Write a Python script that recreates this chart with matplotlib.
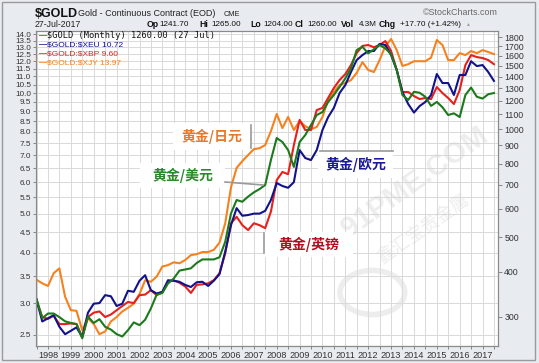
import datetime as dt
import matplotlib
matplotlib.use('Agg')
import matplotlib.pyplot as plt
import matplotlib.dates as mdates
import matplotlib.patches as mpatches
from matplotlib.ticker import FixedLocator, FixedFormatter, NullLocator
import pandas as pd

plt.rcParams['font.family'] = ['Liberation Sans', 'DejaVu Sans']

# quarterly closes, Jul 1997 .. Jul 2017
dates = pd.date_range('1997-07-01', '2017-07-01', freq='QS-JAN')

# $GOLD in USD (right axis)
gold_usd = [336, 297, 306, 306, 299, 291, 288, 286, 261, 300,
            288, 295, 281, 276, 268, 264, 275, 289, 284, 294,
            316, 345, 349, 371, 383, 403, 406, 409, 423, 433,
            433, 433, 439, 485, 582, 634, 627, 648, 666, 680,
            698, 820, 944, 920, 874, 784, 920, 962, 1026, 1094,
            1115, 1189, 1244, 1310, 1385, 1475, 1660, 1695, 1625, 1668,
            1714, 1678, 1615, 1460, 1244, 1205, 1270, 1262, 1230, 1160,
            1190, 1150, 1094, 1106, 1080, 1244, 1305, 1230, 1216, 1250,
            1260]

# ratio overlays (left axis)
gold_eur = [3.06, 2.70, 2.75, 2.80, 2.62, 2.51, 2.56, 2.61, 2.47, 2.84,
            2.99, 3.00, 3.14, 3.12, 2.95, 2.99, 3.22, 3.20, 3.41, 3.52,
            3.23, 3.17, 3.20, 3.42, 3.41, 3.39, 3.33, 3.29, 3.38, 3.39,
            3.31, 3.41, 3.54, 4.03, 4.69, 5.17, 4.95, 4.97, 5.01, 5.01,
            5.09, 5.42, 5.97, 5.87, 5.81, 6.00, 7.21, 6.89, 6.81, 7.21,
            8.09, 8.71, 9.18, 10.0, 10.47, 11.28, 12.08, 12.43, 12.72, 12.72,
            13.25, 13.17, 12.43, 11.41, 10.06, 9.39, 8.94, 9.28, 9.50, 9.89,
            11.15, 10.59, 10.59, 9.89, 11.09, 11.09, 12.0, 11.67, 11.74, 11.28,
            10.72]

gold_gbp = [3.05, 2.77, 2.74, 2.79, 2.66, 2.66, 2.67, 2.66, 2.47, 2.77,
            2.84, 2.86, 2.77, 2.81, 2.88, 2.95, 3.02, 3.00, 3.14, 3.15,
            3.23, 3.14, 3.20, 3.39, 3.42, 3.37, 3.30, 3.18, 3.33, 3.34,
            3.36, 3.42, 3.56, 3.99, 4.74, 4.92, 4.69, 4.56, 4.74, 4.69,
            4.61, 5.07, 6.07, 6.36, 6.28, 7.42, 8.57, 8.09, 8.09, 9.07,
            9.18, 9.72, 10.29, 10.77, 11.15, 11.74, 12.57, 13.1, 13.17, 13.0,
            13.17, 13.47, 12.72, 11.41, 10.06, 10.06, 9.83, 9.66, 9.72, 9.66,
            10.35, 10.0, 9.72, 9.39, 10.17, 11.74, 12.43, 12.29, 12.22, 12.08,
            11.8]

gold_jpy = [3.43, 3.36, 3.31, 3.56, 3.66, 3.11, 2.88, 2.87, 2.57, 2.75,
            2.66, 2.51, 2.55, 2.70, 2.77, 2.86, 2.92, 2.99, 3.16, 3.42,
            3.39, 3.49, 3.70, 3.73, 3.79, 3.77, 3.84, 3.95, 3.97, 4.02,
            4.02, 4.07, 4.24, 4.74, 5.83, 6.51, 6.77, 7.01, 7.25, 7.29,
            7.42, 8.04, 8.87, 8.18, 8.72, 8.09, 8.52, 8.27, 8.13, 8.23,
            8.72, 9.61, 10.06, 10.47, 10.6, 10.77, 11.22, 11.94, 11.41, 11.28,
            12.08, 13.1, 13.63, 12.79, 11.68, 11.8, 12.0, 12.0, 12.0, 12.25,
            13.55, 13.17, 12.08, 12.08, 12.57, 12.43, 12.72, 12.57, 12.79, 12.65,
            12.5]

left_ticks = [2.5, 3.0, 3.5, 4.0, 4.5, 5.0, 5.5, 6.0, 6.5, 7.0, 7.5, 8.0,
              8.5, 9.0, 9.5, 10.0, 10.5, 11.0, 11.5, 12.0, 12.5, 13.0, 13.5, 14.0]
right_ticks = [300, 400, 500, 600, 700, 800, 900, 1000, 1100, 1200,
               1300, 1400, 1500, 1600, 1700, 1800]

GREEN = '#1c7a1c'
BLUE = '#12128a'
RED = '#e6201c'
ORANGE = '#f5821f'

W, H = 539, 363


def fx(x):
    return x / W


def fy(y):
    return 1 - y / H


fig = plt.figure(figsize=(W / 100, H / 100), dpi=100)
fig.patch.set_facecolor('#e8ebf0')
fig.add_artist(mpatches.Rectangle((fx(2), fy(360)), fx(535) - fx(2), fy(2) - fy(360),
                                  transform=fig.transFigure, fc='none', ec='#9a9a9a', lw=1))

ax = fig.add_axes([fx(36), fy(346), fx(498) - fx(36), fy(31) - fy(346)])
ax.set_facecolor('white')
ax.set_yscale('log')
ax.set_ylim(2.346, 14.27)
ax.set_xlim(dt.datetime(1997, 6, 23), dt.datetime(2017, 9, 4))

ax.plot(dates, gold_jpy, color=ORANGE, lw=1.5)
ax.plot(dates, gold_gbp, color=RED, lw=1.5)
ax.plot(dates, gold_eur, color=BLUE, lw=1.5)

ax.yaxis.set_major_locator(FixedLocator(left_ticks))
ax.yaxis.set_major_formatter(FixedFormatter(['%.1f' % t for t in left_ticks]))
ax.yaxis.set_minor_locator(NullLocator())
ax.xaxis.set_major_locator(mdates.YearLocator())
ax.xaxis.set_major_formatter(mdates.DateFormatter('%Y'))
ax.xaxis.set_minor_locator(mdates.MonthLocator(bymonth=7))
ax.grid(True, which='major', color='#d9d9d9', lw=0.7)
ax.grid(True, which='minor', axis='x', color='#d9d9d9', lw=0.7)
ax.set_axisbelow(True)
ax.tick_params(axis='y', labelsize=5.9, length=2.5, width=0.6, color='#777777',
               pad=1, labelcolor='#333333')
ax.tick_params(axis='x', which='both', labelsize=6.6, length=2, width=0.6,
               color='#777777', pad=1.5, labelcolor='#333333')

ax2 = ax.twinx()
ax2.set_yscale('log')
ax2.set_ylim(248.4, 1876)
ax2.plot(dates, gold_usd, color=GREEN, lw=1.5)
ax2.yaxis.set_major_locator(FixedLocator(right_ticks))
ax2.yaxis.set_major_formatter(FixedFormatter([str(t) for t in right_ticks]))
ax2.yaxis.set_minor_locator(NullLocator())
ax2.tick_params(axis='y', labelsize=6.3, length=3, width=0.6, color='#777777',
                pad=1.5, labelcolor='#333333')

for a in (ax, ax2):
    for s in a.spines.values():
        s.set_color('#8a8a8a')
        s.set_linewidth(0.8)

# watermark
ax.text(0.82, 0.52, '91PME.COM', transform=ax.transAxes, rotation=35,
        fontsize=21, fontweight='bold', color='#d4d4d4', alpha=0.4,
        ha='center', va='center', zorder=1)
ax.text(0.84, 0.37, '鑫汇宝贵金属', transform=ax.transAxes, rotation=35,
        fontsize=13, color='#d4d4d4', alpha=0.4, ha='center', va='center',
        family=['Noto Sans CJK SC', 'DejaVu Sans'], zorder=1)
ax.add_patch(mpatches.Circle((0.728, 0.17), 0.07, transform=ax.transAxes,
                             fc='none', ec='#dcdcdc', lw=4, alpha=0.5, zorder=1))

# header
fig.text(fx(35), fy(14), '\\$GOLD', fontsize=9, fontweight='bold', va='center', color='#111111')
fig.text(fx(78), fy(14), 'Gold - Continuous Contract (EOD)', fontsize=6.5, va='center', color='#222222')
fig.text(fx(224), fy(14.5), 'CME', fontsize=5.3, va='center', color='#222222')
fig.text(fx(35), fy(24.5), '27-Jul-2017', fontsize=6.3, va='center', color='#222222')
fig.text(fx(498), fy(12.5), '©StockCharts.com', fontsize=6.4, ha='right', va='center', color='#666666')

ohlc = [(147, 'Op', True), (159, '1241.70', False), (199, 'Hi', True), (211, '1265.00', False),
        (250, 'Lo', True), (263, '1204.00', False), (295, 'Cl', True), (307, '1260.00', False),
        (341, 'Vol', True), (359, '4.3M', False), (379, 'Chg', True), (400, '+17.70 (+1.42%)', False)]
for x, s, bold in ohlc:
    fig.text(fx(x), fy(24.5), s, fontsize=6.3 if bold else 5.9,
             fontweight='bold' if bold else 'normal', va='center', color='#111111')
fig.text(fx(465), fy(24), '▲', fontsize=3.5, va='center', color='#999999')

# legend
legend_rows = [('\\$GOLD (Monthly) 1260.00 (27 Jul)', GREEN, '#111111', 35.5),
               ('\\$GOLD:\\$XEU 10.72', BLUE, BLUE, 45),
               ('\\$GOLD:\\$XBP 9.60', RED, RED, 54),
               ('\\$GOLD:\\$XJY 13.97', ORANGE, ORANGE, 63)]
for i, (label, lc, tc, y) in enumerate(legend_rows):
    fig.text(fx(39), fy(y), '—', fontsize=6, fontweight='bold', va='center', color=lc)
    if i == 0:
        fig.text(fx(47), fy(y), label, fontsize=6.2, va='center', color=tc,
                 family=['DejaVu Sans Mono'])
    else:
        fig.text(fx(47), fy(y), label, fontsize=6.0, va='center', color=tc)

# Chinese call-outs
callouts = [('黄金/日元', '#e8792b', 173, 123, 250, 150),
            ('黄金/美元', '#2a8a2a', 140, 163, 225, 188),
            ('黄金/欧元', '#1a1a9c', 318, 151, 393, 178),
            ('黄金/英镑', '#b0101e', 264, 232, 353, 257)]
for label, c, x0, y0, x1, y1 in callouts:
    fig.add_artist(mpatches.Rectangle((fx(x0), fy(y1)), fx(x1) - fx(x0), fy(y0) - fy(y1),
                                      transform=fig.transFigure, fc='white', ec='none'))
    fig.text(fx((x0 + x1) / 2), fy((y0 + y1) / 2), label, fontsize=10, fontweight='bold',
             color=c, ha='center', va='center', family=['Noto Sans CJK SC', 'DejaVu Sans'])

pointer_lines = [((251, 251), (125, 148)),
                 ((225, 263), (182, 185)),
                 ((320, 393), (151, 151)),
                 ((264, 264), (233, 253))]
for xs, ys in pointer_lines:
    fig.add_artist(plt.Line2D([fx(v) for v in xs], [fy(v) for v in ys],
                              transform=fig.transFigure, color='#9a9a9a', lw=1.2))

fig.savefig('out.png', dpi=100, facecolor=fig.get_facecolor())
